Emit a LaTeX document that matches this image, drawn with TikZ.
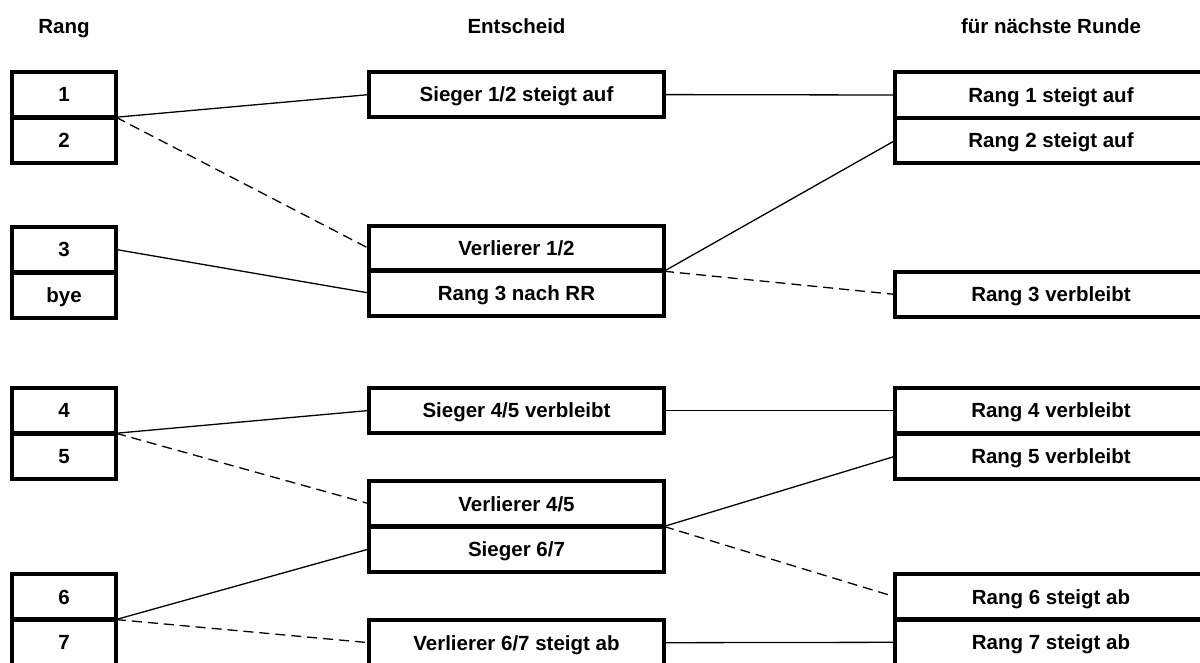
\documentclass[tikz,border=0pt]{standalone}
\usepackage{fontspec}
\setmainfont{Liberation Sans}
\begin{document}
\begin{tikzpicture}[x=1pt,y=1pt,yscale=-1,xscale=1,
  rangbox/.style={draw,line width=4.2pt,outer sep=0pt,inner sep=0pt,minimum height=45.5pt,minimum width=104pt,text height=14.7pt,text depth=0pt,font=\bfseries\fontsize{20.5}{24}\selectfont},
  entbox/.style={rangbox,minimum width=295pt},
  rundebox/.style={rangbox,minimum width=312pt},
  kopf/.style={anchor=base,inner sep=0pt,font=\bfseries\fontsize{20.5}{24}\selectfont},
  weiter/.style={line width=1.3pt},
  verlust/.style={weiter,dash pattern=on 10pt off 6pt}]
\useasboundingbox (0,0) rectangle (1200,663);
\clip (0,0) rectangle (1200,663);

% Text Node
\node [kopf] (hRang) at (64,33.5) {Rang};
% Text Node
\node [kopf] (hEnt) at (516.5,33.5) {Entscheid};
% Text Node
\node [kopf] (hRunde) at (1051,33.5) {für nächste Runde};

%Shape: Rectangle (Rang)
\node [rangbox] (l1) at (64,94.5) {1};
\node [rangbox] (l2) at (64,140.5) {2};
\node [rangbox] (l3) at (64,249.5) {3};
\node [rangbox] (lbye) at (64,295.5) {bye};
\node [rangbox] (l4) at (64,410.5) {4};
\node [rangbox] (l5) at (64,456.3) {5};
\node [rangbox] (l6) at (64,596.8) {6};
\node [rangbox] (l7) at (64,642.3) {7};

%Shape: Rectangle (Entscheid)
\node [entbox] (s12) at (516.5,94.6) {Sieger 1/2 steigt auf};
\node [entbox] (v12) at (516.5,248.5) {Verlierer 1/2};
\node [entbox] (rr3) at (516.5,293) {Rang 3 nach RR};
\node [entbox] (s45) at (516.5,410.5) {Sieger 4/5 verbleibt};
\node [entbox] (v45) at (516.5,503.7) {Verlierer 4/5};
\node [entbox] (s67) at (516.5,549) {Sieger 6/7};
\node [entbox] (v67) at (516.5,642.7) {Verlierer 6/7 steigt ab};

%Shape: Rectangle (naechste Runde)
\node [rundebox] (n1) at (1051,95) {Rang 1 steigt auf};
\node [rundebox] (n2) at (1051,140.5) {Rang 2 steigt auf};
\node [rundebox] (n3) at (1051,294.4) {Rang 3 verbleibt};
\node [rundebox] (n4) at (1051,410.5) {Rang 4 verbleibt};
\node [rundebox] (n5) at (1051,456.3) {Rang 5 verbleibt};
\node [rundebox] (n6) at (1051,596.8) {Rang 6 steigt ab};
\node [rundebox] (n7) at (1051,642.3) {Rang 7 steigt ab};

%Straight Lines
\draw [weiter] (l1.south east) -- (s12.west);
\draw [verlust] (l1.south east) -- (v12.west);
\draw [weiter] (l3.east) -- (rr3.west);
\draw [weiter] (s12.east) -- (n1.west);
\draw [weiter] (v12.south east) -- (n2.west);
\draw [verlust] (v12.south east) -- (n3.west);

%Straight Lines
\draw [weiter] (l4.south east) -- (s45.west);
\draw [verlust] (l4.south east) -- (v45.west);
\draw [weiter] (l6.south east) -- (s67.west);
\draw [verlust] (l6.south east) -- (v67.west);
\draw [weiter] (s45.east) -- (n4.west);
\draw [weiter] (v45.south east) -- (n5.west);
\draw [verlust] (v45.south east) -- (n6.west);
\draw [weiter] (v67.east) -- (n7.west);

\end{tikzpicture}
\end{document}
